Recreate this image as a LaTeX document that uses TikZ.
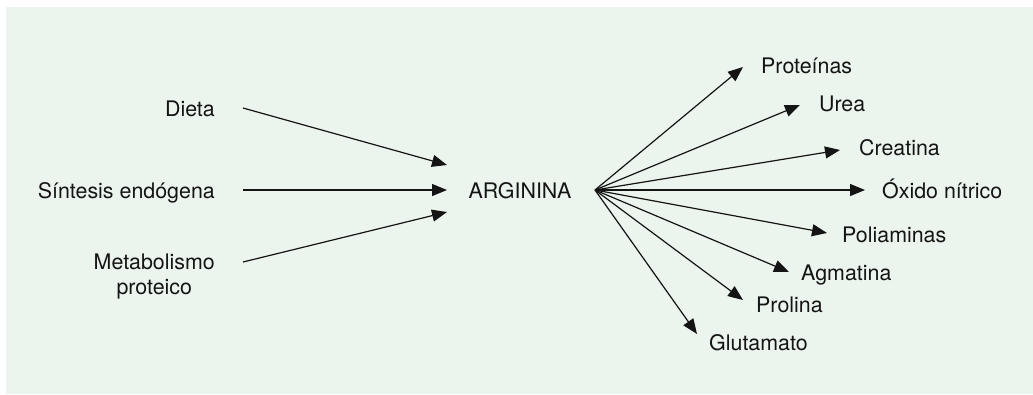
\documentclass[tikz,border=0pt]{standalone}
\usepackage{fontspec}
\setmainfont{TeX Gyre Heros}
\usetikzlibrary{arrows.meta}
\definecolor{panel}{RGB}{235,245,237}
\definecolor{ink}{RGB}{20,20,20}
\begin{document}
\begin{tikzpicture}[x=1pt,y=-1pt,
  lbl/.style={inner sep=0pt, font=\fontsize{21.4}{25}\selectfont, text=ink},
  flow/.style={line width=1.2pt, draw=ink, -{Triangle[length=15pt,width=12pt]}}]
\useasboundingbox (0,0) rectangle (1033,394);
\fill[panel] (6,7) rectangle (1033,394);

% sources
\node[lbl, anchor=base east] (dieta) at (215,116) {Dieta};
\node[lbl, anchor=base east] (sintesis) at (215,198) {Síntesis endógena};
\node[lbl, anchor=east, align=center] (metab) at (215,276.5) {Metabolismo\\proteico};

% central compound
\node[lbl, anchor=base] (arg) at (520,198) {ARGININA};

% products
\node[lbl, anchor=base west] (prot) at (761,73) {Proteínas};
\node[lbl, anchor=base west] (urea) at (819,111) {Urea};
\node[lbl, anchor=base west] (crea) at (859,155) {Creatina};
\node[lbl, anchor=base west] (oxido) at (882,198) {Óxido nítrico};
\node[lbl, anchor=base west] (poli) at (842,242) {Poliaminas};
\node[lbl, anchor=base west] (agma) at (801,280) {Agmatina};
\node[lbl, anchor=base west] (prol) at (756,312) {Prolina};
\node[lbl, anchor=base west] (glut) at (709,350) {Glutamato};

% arrow end points
\coordinate (d0) at (243,108);  \coordinate (d1) at (447,165);
\coordinate (s0) at (243,190);  \coordinate (s1) at (447,190);
\coordinate (m0) at (243,262);  \coordinate (m1) at (447,212);
\coordinate (hub) at (595,190);
\coordinate (tprot) at (743,67);
\coordinate (turea) at (800,105);
\coordinate (tcrea) at (840,150);
\coordinate (toxido) at (865,190);
\coordinate (tpoli) at (827,233);
\coordinate (tagma) at (789,272);
\coordinate (tprol) at (743,300);
\coordinate (tglut) at (697,334);

% inflow
\draw[flow] (d0) -- (d1);
\draw[flow] (s0) -- (s1);
\draw[flow] (m0) -- (m1);

% outflow
\foreach \t in {tprot,turea,tcrea,toxido,tpoli,tagma,tprol,tglut}
  \draw[flow] (hub) -- (\t);
\end{tikzpicture}
\end{document}
